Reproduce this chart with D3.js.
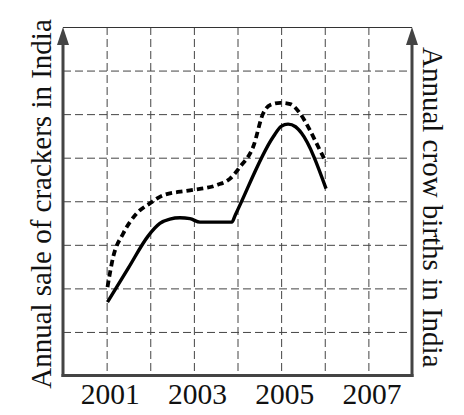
<!DOCTYPE html>
<html>
<head>
<meta charset="utf-8">
<script src="https://cdn.jsdelivr.net/npm/d3@7"></script>
<style>
  html, body { margin: 0; padding: 0; background: #fff; }
  svg { display: block; }
  text { font-family: "Liberation Serif", "Times New Roman", serif; fill: #111; }
</style>
</head>
<body>
<svg id="chart" width="464" height="415"></svg>
<script>
// ---- data ----
const gridYears = [2001, 2002, 2003, 2004, 2005, 2006, 2007];
const tickYears = [2001, 2003, 2005, 2007];
const gridLevels = [1, 2, 3, 4, 5, 6, 7];

// solid line: annual sale of crackers (left axis)
const crackersYears  = [2001.02, 2001.5, 2001.95, 2002.22, 2002.45, 2002.68, 2002.91, 2003.14, 2003.87, 2003.95, 2004.82, 2005.0, 2005.16, 2005.33, 2005.47, 2006.03];
const crackersValues = [1.685,   2.47,   3.2,     3.49,    3.59,    3.62,    3.60,    3.52,    3.52,    3.685,   5.48,    5.72,   5.77,    5.71,    5.56,    4.29];

// dashed line: annual crow births (right axis)
const crowYears  = [2001.02, 2001.15, 2001.38, 2001.69, 2001.99, 2002.30, 2002.91, 2003.52, 2003.83, 2004.06, 2004.36, 2004.59, 2004.75, 2004.98, 2005.21, 2005.43, 2005.66, 2005.89, 2006.03];
const crowValues = [2.03,    2.72,    3.26,    3.72,    3.95,    4.14,    4.25,    4.37,    4.52,    4.79,    5.25,    6.02,    6.21,    6.26,    6.23,    6.02,    5.63,    5.17,    4.90];

const leftLabel = "Annual sale of crackers in India";
const rightLabel = "Annual crow births in India";

// ---- layout ----
const L = 63, R = 412, T = 27, B = 375.5;
const x = d3.scaleLinear().domain([2000, 2008]).range([L, R]);
const y = d3.scaleLinear().domain([0, 8]).range([B, T]);

const svg = d3.select("#chart");

// grid (vertical)
svg.append("g")
  .attr("transform", `translate(0,${T})`)
  .call(d3.axisBottom(x).tickValues(gridYears).tickSize(B - T).tickFormat(""))
  .call(g => g.select(".domain").remove())
  .call(g => g.selectAll(".tick line")
      .attr("stroke", "#444").attr("stroke-width", 1).attr("stroke-dasharray", "8,4"));

// grid (horizontal)
svg.append("g")
  .attr("transform", `translate(${L},0)`)
  .call(d3.axisRight(y).tickValues(gridLevels).tickSize(R - L).tickFormat(""))
  .call(g => g.select(".domain").remove())
  .call(g => g.selectAll(".tick line")
      .attr("stroke", "#444").attr("stroke-width", 1).attr("stroke-dasharray", "8,4"));

// frame: top thin line
svg.append("line")
  .attr("x1", L).attr("x2", R).attr("y1", T + 0.5).attr("y2", T + 0.5)
  .attr("stroke", "#333").attr("stroke-width", 1.2);

// bottom thick line
svg.append("line")
  .attr("x1", L - 1.5).attr("x2", R + 1.5).attr("y1", B).attr("y2", B)
  .attr("stroke", "#444").attr("stroke-width", 3);

// left and right axes with arrowheads
[L, R].forEach(ax => {
  svg.append("line")
    .attr("x1", ax).attr("x2", ax).attr("y1", B + 1.5).attr("y2", T + 14)
    .attr("stroke", "#444").attr("stroke-width", 3);
  svg.append("path")
    .attr("d", `M${ax},${T} L${ax - 6},${T + 18} L${ax + 6},${T + 18} Z`)
    .attr("fill", "#444");
});

// series
const line = d3.line()
  .x(d => x(d[0])).y(d => y(d[1]))
  .curve(d3.curveMonotoneX);

svg.append("path")
  .datum(crowYears.map((v, i) => [v, crowValues[i]]))
  .attr("d", line)
  .attr("fill", "none").attr("stroke", "#000")
  .attr("stroke-width", 3.8).attr("stroke-dasharray", "6.5,4");

svg.append("path")
  .datum(crackersYears.map((v, i) => [v, crackersValues[i]]))
  .attr("d", line)
  .attr("fill", "none").attr("stroke", "#000")
  .attr("stroke-width", 3.4).attr("stroke-linejoin", "round");

// x tick labels
svg.append("g")
  .attr("transform", `translate(3,${B})`)
  .call(d3.axisBottom(x).tickValues(tickYears).tickSize(0).tickPadding(8).tickFormat(d3.format("d")))
  .call(g => g.select(".domain").remove())
  .call(g => g.selectAll(".tick text")
      .attr("font-family", "Liberation Serif, Times New Roman, serif")
      .attr("font-size", 29.5).attr("fill", "#111").attr("dy", 0).attr("y", 28));

// axis titles
svg.append("text")
  .attr("transform", `translate(51,204) rotate(-90)`)
  .attr("text-anchor", "middle")
  .attr("font-size", 29)
  .text(leftLabel);

svg.append("text")
  .attr("transform", `translate(423,47) rotate(90)`)
  .attr("text-anchor", "start")
  .attr("font-size", 29)
  .text(rightLabel);
</script>
</body>
</html>
